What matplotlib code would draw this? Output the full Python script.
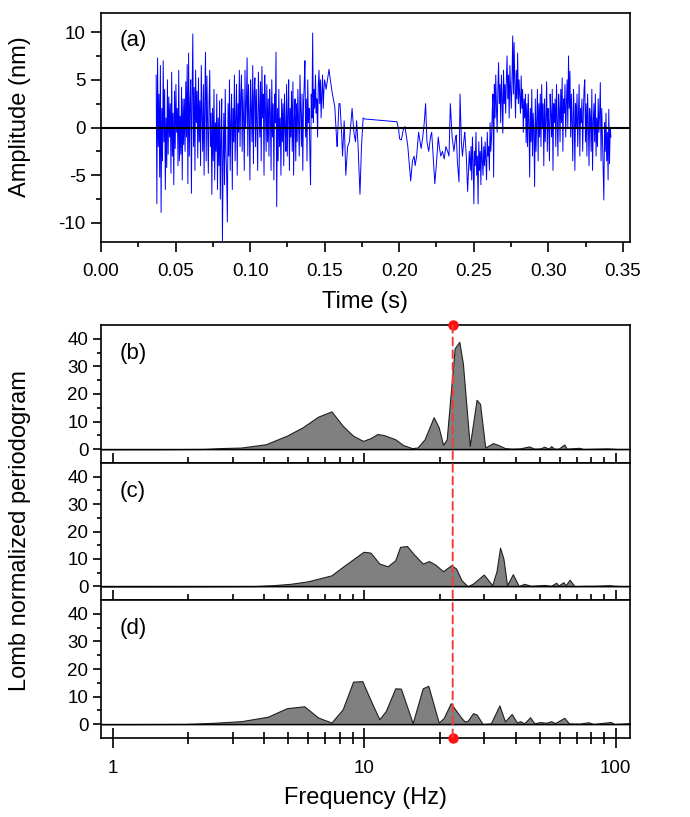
import numpy as np
import matplotlib
matplotlib.use('Agg')
import matplotlib.pyplot as plt
from matplotlib.patches import ConnectionPatch
from matplotlib.ticker import MultipleLocator, FixedLocator, FormatStrFormatter

plt.rcParams['font.family'] = ['Liberation Sans', 'DejaVu Sans']
plt.rcParams['axes.unicode_minus'] = False

# ---- panel (a): signal ----
# dense part 1 (0.037 - 0.150 s)
t_start_1, t_end_1 = 0.037, 0.150
amp_1 = [
    5.5, -8.0, 7.3, -2.0, 3.5, -5.2, 6.5, -8.9, 2.0, -3.5, 7.0, -1.5, 4.0, -6.5, 1.0, -4.2, 5.0, -2.8, 3.2, -1.0,
    2.5, -4.8, 5.8, -3.0, 1.5, -6.0, 3.8, -2.2, 4.5, -0.5, 2.0, -4.0, 6.0, -3.5, 1.2, -2.8, 4.2, -5.5, 3.0, -1.8,
    3.0, -2.5, 4.8, -1.0, 6.6, -5.9, 7.8, -3.0, 2.5, 5.0, -6.9, 3.5, 9.8, -2.0, 4.2, -4.5, 6.0, 0.5, 3.8, -3.2,
    5.2, -1.5, 2.8, -4.0, 6.5, 1.0, -2.5, 4.5, -5.0, 3.0, 7.9, -3.5, 5.4, 0.5, -4.8, 2.5, 6.0, -2.0, 1.5, -7.0,
    2.0, -3.5, 4.0, -5.5, 0.5, -2.5, 3.5, -6.5, 1.0, -4.0, 2.8, -7.5, -1.0, 3.0, -11.9, -3.5, 1.5, -6.0, 4.0, -2.5,
    -5.0, -9.9, 2.5, -3.0, 5.0, -4.5, 0.5, 3.5, -6.5, 2.0, -1.5, 5.5, -3.5, 1.0, 4.5, -5.0, 2.5, -0.5, 6.0, -2.0,
    3.5, 5.5, -2.5, 4.0, 1.0, -4.5, 6.0, 0.0, 2.5, 7.3, -3.0, 4.5, 1.5, -5.5, 5.0, 2.0, -1.5, 6.5, -3.8, 3.5,
    5.2, -2.0, 4.0, 0.5, -4.5, 5.8, 2.5, -1.0, 4.8, -3.5, 6.4, 1.0, 3.5, -5.0, 5.5, 2.0, -2.5, 4.5, -1.5, 3.0,
    -3.0, 4.0, 1.5, -4.5, 5.0, -1.0, 2.5, -5.5, 3.5, 0.5, 7.9, -8.3, 2.0, -3.5, 4.0, -2.0, 1.0, -5.0, 3.0, -1.5,
    2.5, -4.0, 3.5, 0.0, -2.5, 4.5, -3.0, 1.5, 5.0, -4.5, 2.0, -1.0, 3.8, -2.5, 4.8, -5.0, 1.0, 3.0, -3.5, 2.5,
    -1.5, 4.0, 0.5, -3.0, 5.5, 1.5, -2.0, 3.5, -4.5, 2.5, 4.5, 7.0, -1.0, 3.0, -3.5, 5.0, 0.5, 2.0, -2.5, -6.0,
    3.5, 1.0, 9.9, 0.5, 4.0, 2.0, 5.5, 1.5, 3.0, -1.0, 4.5, 6.0, 2.5, 5.0, 1.0, 3.5, 5.5, 2.0, 4.0, 5.0,
]
# sparse part (0.151 - 0.1985 s)
t_sparse_1 = [0.1510, 0.1529, 0.1538, 0.1552, 0.1568, 0.1580, 0.1584, 0.1596, 0.1603, 0.1615,
              0.1620, 0.1631, 0.1642, 0.1654, 0.1666, 0.1684, 0.1696, 0.1707, 0.1714, 0.1723,
              0.1737, 0.1747, 0.1758, 0.1765, 0.1985]
amp_sparse_1 = [4.0, 6.1, 5.0, 3.5, 2.2, -1.2, -2.0, 2.5, 2.5, -1.0,
                -3.0, 0.7, -5.0, -2.0, -1.5, 2.0, -0.5, -1.5, 0.7, -1.5,
                -7.0, -2.0, 1.0, 0.9, 0.6]
# sparse part (0.1996 - 0.247 s)
t_sparse_2 = [0.1996, 0.2003, 0.2015, 0.2026, 0.2038, 0.2049, 0.2058, 0.2077, 0.2089, 0.2100,
              0.2107, 0.2117, 0.2130, 0.2140, 0.2147, 0.2158, 0.2168, 0.2177, 0.2186, 0.2198,
              0.2210, 0.2218, 0.2228, 0.2239, 0.2251, 0.2262, 0.2269, 0.2279, 0.2290, 0.2302,
              0.2313, 0.2325, 0.2334, 0.2343, 0.2355, 0.2367, 0.2378, 0.2383, 0.2390, 0.2401,
              0.2408, 0.2417, 0.2424, 0.2436, 0.2440, 0.2450, 0.2459, 0.2470]
amp_sparse_2 = [-0.2, -1.2, -1.3, -0.3, 0.1, -1.0, -2.0, -5.6, -3.5, -3.0,
                -4.0, -3.0, -0.5, -1.5, -2.2, -1.0, 0.5, 2.5, -1.5, -2.5,
                -1.0, -0.5, -3.0, -5.9, -3.5, -1.0, -2.0, -3.0, -2.5, -3.3,
                -2.0, -2.5, -3.0, 2.5, -1.0, -2.5, -1.0, -0.8, -3.5, -5.7,
                3.5, -1.5, -3.0, -1.0, -0.5, -3.0, -6.7, -2.5]
# dense part 2 (0.2477 - 0.342 s)
t_start_2, t_end_2 = 0.2477, 0.342
amp_2 = [
    -4.5, -2.0, -5.5, -1.0, -3.5, -8.0, -2.5, -4.0, -0.5, -5.0, -3.0, -8.0, -1.5, -4.5, -2.5, -6.0, -1.0, -3.5, -5.0, -2.0,
    -4.0, -1.5, -3.5, -5.5, -0.5, -3.0, -2.0, -4.5, 0.5, -2.5, -1.0, 1.5, 3.5, -5.2, 4.5, 1.0, 5.5, 2.0, -0.5, 4.0,
    6.8, 2.5, 4.5, 0.5, 5.5, 3.0, -0.6, 6.0, 2.5, 4.5, 1.5, 5.0, 7.5, 3.0, 5.5, 1.0, 6.5, 4.0, 2.0, 5.0,
    9.6, 3.5, 8.9, 4.5, 1.0, 6.0, 3.0, 7.8, 2.5, 5.0, 3.3, 1.5, 5.4, 2.0, 4.0, -0.5, 3.0, 1.0, 3.5, -1.6,
    2.5, -2.0, 3.5, 0.5, -5.2, 2.0, -1.5, 4.0, -3.0, 1.5, -0.5, -6.2, 3.0, -2.5, 1.0, 4.0, -3.5, 2.5, -1.0, 3.5,
    -2.0, 4.5, 0.0, 2.5, -4.0, 3.0, -1.5, 1.0, 4.8, -2.5, 2.0, 0.5, -3.5, 3.5, 1.5, -1.0, 4.0, -4.5, 2.5, 0.5,
    3.0, -2.0, 4.5, 1.0, -3.0, 3.5, 2.0, -1.5, 4.0, 0.5, 5.2, -2.5, 3.0, 1.5, 4.5, -1.0, 2.5, 5.0, 0.0, 7.5,
    2.0, 5.9, -1.0, 3.5, 0.5, -3.5, 4.0, 1.5, -4.5, 2.5, 0.0, 3.5, -2.0, 1.5, 4.5, -3.0, 2.0, 0.5, 3.0, -2.5,
    1.5, 4.0, 5.0, -1.5, 2.5, -3.0, 3.5, 0.5, -4.0, 2.0, 1.0, -2.5, 4.0, -4.5, 0.5, 2.5, -1.5, 3.5, -3.0, 1.0,
    -2.0, 3.0, -0.5, 1.5, 4.7, -3.5, 2.0, -1.0, -4.5, -7.6, 0.5, -2.5, 1.5, -3.5, -0.5, -5.5, 1.9, -3.8, 0.0, -1.0,
]

# ---- panels (b)-(d): Lomb normalized periodograms ----
freq_b = [0.9, 1.5, 2.3, 2.69, 3.25, 4.07, 4.93, 5.69, 6.57, 7.42, 8.22, 9.04, 9.9, 10.6, 11.3,
          12.0, 13.3, 14.3, 15.5, 16.3, 17.4, 18.9, 19.8, 20.6, 21.3, 22.9, 23.9, 24.7, 26.3, 28.0,
          28.9, 30.3, 32.5, 34.0, 36.3, 38.6, 41.7, 45.2, 47.5, 50.2, 52.0, 54.2, 55.4, 57.0, 59.3,
          62.5, 63.8, 71.7, 74.3, 92.7, 102, 114]
pow_b = [0, 0.02, 0.1, 0.4, 0.6, 1.8, 4.9, 7.9, 11.8, 13.7, 8.5, 4.9, 3.0, 4.0, 5.5,
         5.1, 3.6, 1.5, 0.4, 0.6, 3.6, 11.6, 7.9, 1.6, 3.6, 36.5, 38.9, 31.0, 1.2, 17.9,
         16.4, 0.6, 2.2, 1.6, 0.4, 0.2, 0.3, 1.0, 0.2, 0.3, 0.9, 0.2, 1.1, 0.2, 0.2,
         1.7, 0.2, 0.5, 0.1, 0.3, 0.1, 0.1]

freq_c = [0.9, 2.0, 3.7, 4.34, 5.09, 5.97, 6.79, 7.42, 8.22, 8.9, 9.95, 10.6, 11.5, 12.4, 13.3,
          13.9, 14.8, 15.8, 17.1, 18.1, 19.2, 20.6, 22.2, 23.2, 24.4, 25.8, 27.1, 29.9, 32.3, 33.6,
          34.7, 35.8, 37.0, 39.0, 41.2, 43.3, 46.0, 52.0, 55.4, 58.0, 59.3, 62.0, 63.2, 65.6, 68.5,
          76.7, 81.5, 94.6, 98.8, 106, 114]
pow_c = [0, 0.02, 0.1, 0.4, 0.9, 1.8, 3.1, 4.0, 7.1, 9.4, 12.6, 12.3, 8.3, 7.3, 9.5,
         14.4, 14.7, 11.6, 8.3, 9.2, 7.9, 5.5, 7.7, 6.5, 2.2, 0.0, 1.0, 4.3, 0.4, 5.5,
         14.1, 10.1, 0.4, 4.4, 0.1, 0.9, 0.2, 0.5, 0.2, 1.3, 0.3, 1.5, 0.3, 2.4, 0.1,
         0.2, 0.2, 0.4, 0.2, 0.1, 0.1]

freq_d = [0.9, 1.95, 2.52, 3.25, 4.14, 4.93, 5.78, 6.57, 7.42, 8.22, 9.04, 9.84, 10.6, 11.5, 12.2,
          13.3, 14.0, 15.6, 17.1, 18.0, 19.8, 20.7, 22.1, 24.4, 25.1, 25.8, 27.1, 28.0, 29.6, 31.9,
          34.5, 36.3, 38.6, 40.5, 41.7, 43.3, 45.7, 47.5, 50.2, 52.8, 55.4, 57.4, 62.5, 65.2, 71.7,
          78.0, 81.5, 95.5, 98.8, 114]
pow_d = [0, 0.1, 0.5, 1.1, 2.7, 5.8, 6.5, 2.4, 0.6, 5.4, 15.4, 15.6, 8.8, 1.8, 4.8,
         13.0, 12.9, 0.4, 13.0, 13.9, 0.6, 2.2, 7.6, 2.2, 1.0, 1.2, 4.0, 3.5, 0.1, 0.3,
         6.8, 1.0, 3.7, 0.6, 1.1, 0.3, 2.5, 0.3, 0.8, 0.5, 1.1, 0.4, 2.3, 0.3, 0.2,
         0.7, 0.1, 0.8, 0.1, 0.4]

peak_freq = 22.5
panel_names = ['(b)', '(c)', '(d)']

time = np.concatenate([np.linspace(t_start_1, t_end_1, len(amp_1)), t_sparse_1,
                       t_sparse_2, np.linspace(t_start_2, t_end_2, len(amp_2))])
amp = np.concatenate([amp_1, amp_sparse_1, amp_sparse_2, amp_2])

W, H = 690, 817
fig = plt.figure(figsize=(W / 100, H / 100), dpi=100)

def box(left, top, right, bottom):
    return [left / W, 1 - bottom / H, (right - left) / W, (bottom - top) / H]

lw_spine = 1.2
tick_fs = 13.5
label_fs = 17
panel_fs = 16

# ---- (a) ----
ax = fig.add_axes(box(101, 13, 630, 242))
ax.plot(time, amp, color='#0000ff', lw=0.7)
ax.axhline(0, color='black', lw=1.5, zorder=3)
ax.set_xlim(0, 0.3548)
ax.set_ylim(-12, 12)
ax.xaxis.set_major_locator(MultipleLocator(0.05))
ax.xaxis.set_minor_locator(MultipleLocator(0.025))
ax.xaxis.set_major_formatter(FormatStrFormatter('%.2f'))
ax.yaxis.set_major_locator(MultipleLocator(5))
ax.yaxis.set_minor_locator(MultipleLocator(2.5))
ax.tick_params(which='major', direction='out', length=7, width=lw_spine, labelsize=tick_fs, pad=4)
ax.tick_params(axis='x', which='major', pad=8)
ax.tick_params(which='minor', direction='out', length=3.5, width=lw_spine)
for s in ax.spines.values():
    s.set_linewidth(lw_spine)
ax.text(0.035, 0.88, '(a)', transform=ax.transAxes, fontsize=panel_fs, va='center')
ax.set_xlabel('Time (s)', fontsize=label_fs, labelpad=8)
fig.text(20 / W, 1 - 117 / H, 'Amplitude (nm)', rotation=90,
         fontsize=label_fs, ha='center', va='center')

# ---- (b)-(d) ----
rows = [(325, 463), (463, 600), (600, 738)]
freqs = [freq_b, freq_c, freq_d]
pows = [pow_b, pow_c, pow_d]
axes = []
for i in range(3):
    a = fig.add_axes(box(101, rows[i][0], 630, rows[i][1]))
    a.fill_between(freqs[i], pows[i], 0, facecolor='#808080', edgecolor='#202020', lw=0.8)
    a.axhline(0, color='black', lw=1.0)
    a.set_xscale('log')
    a.set_xlim(0.9, 114)
    a.set_ylim(-5, 45)
    a.xaxis.set_major_locator(FixedLocator([1, 10, 100]))
    a.xaxis.set_minor_locator(FixedLocator([2, 3, 4, 5, 6, 7, 8, 9, 20, 30, 40, 50, 60, 70, 80, 90]))
    a.yaxis.set_major_locator(FixedLocator([0, 10, 20, 30, 40]))
    a.yaxis.set_minor_locator(FixedLocator([5, 15, 25, 35]))
    a.tick_params(axis='x', which='major', direction='inout', length=14, width=lw_spine,
                  labelsize=tick_fs, pad=9)
    a.tick_params(axis='x', which='minor', direction='inout', length=8, width=lw_spine)
    a.tick_params(axis='y', which='major', direction='out', length=6, width=lw_spine,
                  labelsize=tick_fs, pad=3)
    a.tick_params(axis='y', which='minor', direction='out', length=3, width=lw_spine)
    a.xaxis.set_major_formatter(FormatStrFormatter('%g'))
    if i < 2:
        a.tick_params(axis='x', which='both', labelbottom=False)
    for s in a.spines.values():
        s.set_linewidth(lw_spine)
    a.text(0.035, 0.79, panel_names[i], transform=a.transAxes, fontsize=panel_fs, va='center')
    axes.append(a)

axes[2].set_xlabel('Frequency (Hz)', fontsize=label_fs, labelpad=7)
fig.text(20 / W, 1 - 531 / H, 'Lomb normalized periodogram', rotation=90,
         fontsize=label_fs, ha='center', va='center')

# red dashed marker line across the three periodograms
con = ConnectionPatch(xyA=(peak_freq, 45), coordsA=axes[0].transData,
                      xyB=(peak_freq, -5), coordsB=axes[2].transData,
                      color='#f03c3c', lw=1.4, linestyle=(0, (4, 2.5)), zorder=5)
fig.add_artist(con)
axes[0].plot([peak_freq], [45], 'o', color='#ff1010', ms=6.5, clip_on=False, zorder=6)
axes[2].plot([peak_freq], [-5], 'o', color='#ff1010', ms=6.5, clip_on=False, zorder=6)

fig.savefig('out.png', dpi=100)
